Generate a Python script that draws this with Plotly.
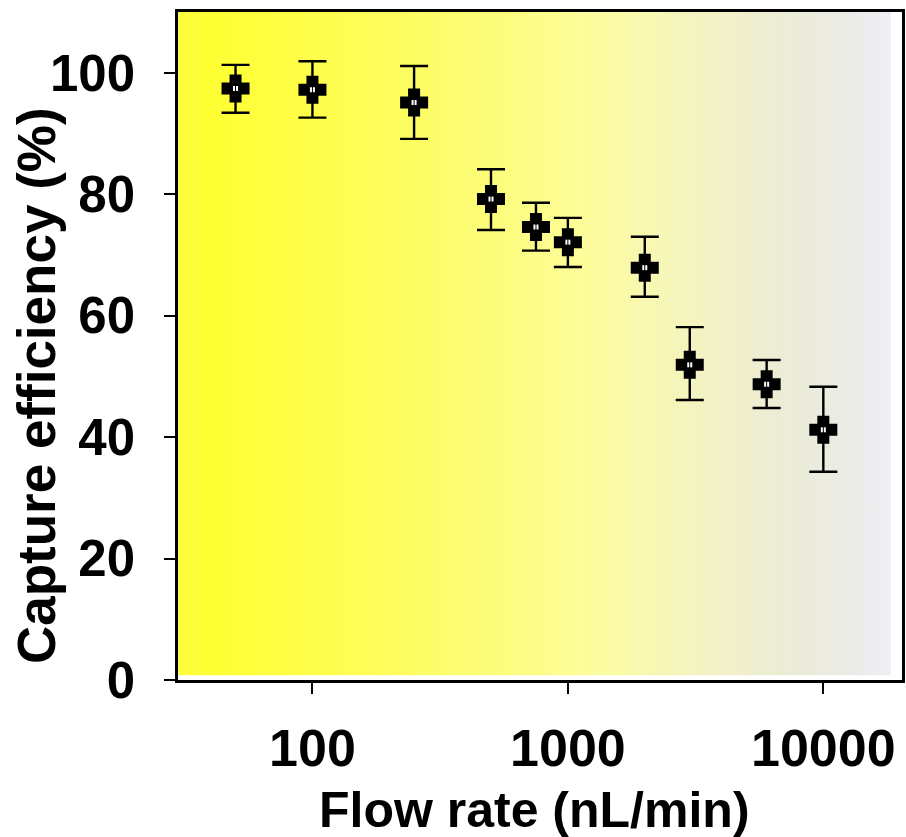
import plotly.graph_objects as go

# ---- data ----
flow_rate = [50, 100, 250, 500, 750, 1000, 2000, 3000, 6000, 10000]
capture_eff = [97.4, 97.2, 95.1, 79.2, 74.6, 72.1, 67.9, 51.9, 48.7, 41.2]
err_up = [3.9, 4.7, 6.0, 4.9, 4.0, 4.0, 5.1, 6.2, 4.0, 7.1]
err_down = [4.0, 4.6, 6.0, 5.1, 3.9, 4.1, 4.8, 5.8, 3.9, 6.9]
x_ticks = [100, 1000, 10000]
x_tick_labels = ["100", "1000", "10000"]
y_ticks = [0, 20, 40, 60, 80, 100]

# background gradient box (data-space extent of the shaded panel)
bg_x = [29.8, 18400, 18400, 29.8, 29.8]
bg_y = [0.8, 0.8, 110, 110, 0.8]
bg_scale = [
    [0.0, "#fdfd40"], [0.04, "#ffff33"], [0.15, "#fefe44"], [0.3, "#fdfd5e"],
    [0.45, "#fcfc7c"], [0.56, "#fdfd98"], [0.66, "#f8f8b2"], [0.76, "#f1f1c8"],
    [0.86, "#ececd8"], [0.95, "#ebebe8"], [1.0, "#efeff8"],
]

FONT = "Liberation Sans, Arial, sans-serif"

fig = go.Figure()
fig.add_trace(go.Scatter(
    x=bg_x, y=bg_y, mode="lines", fill="toself", line=dict(width=0),
    fillgradient=dict(type="horizontal", colorscale=bg_scale),
    hoverinfo="skip", showlegend=False))

fig.add_trace(go.Scatter(
    x=flow_rate, y=capture_eff, mode="markers",
    marker=dict(symbol="cross", size=20, color="black",
                line=dict(color="black", width=4)),
    error_y=dict(type="data", symmetric=False, array=err_up, arrayminus=err_down,
                 color="black", thickness=2.4, width=14),
    showlegend=False))
fig.add_trace(go.Scatter(
    x=flow_rate, y=capture_eff, mode="markers",
    marker=dict(symbol="square", size=5, color="white", line=dict(width=0)),
    showlegend=False, hoverinfo="skip"))
fig.add_trace(go.Scatter(
    x=flow_rate, y=capture_eff, mode="markers",
    marker=dict(symbol="line-ns", size=5, color="black", line=dict(color="black", width=1)),
    showlegend=False, hoverinfo="skip"))

fig.update_layout(
    width=906, height=837,
    margin=dict(l=178, r=1, t=12, b=157),
    paper_bgcolor="white", plot_bgcolor="white",
    font=dict(family=FONT, color="black", size=50, weight="bold"),
    showlegend=False,
)
fig.update_xaxes(
    type="log", range=[1.4737, 4.308],
    tickvals=x_ticks, ticktext=x_tick_labels,
    ticks="outside", ticklen=11, tickwidth=2, tickcolor="black",
    showline=True, linecolor="black", linewidth=2.5, mirror=True,
    showgrid=False, zeroline=False,
    tickfont=dict(family=FONT, size=52, weight="bold"),
    ticklabelstandoff=10,
)
fig.update_yaxes(
    range=[0, 110], tickvals=y_ticks,
    ticks="outside", ticklen=11, tickwidth=2, tickcolor="black",
    showline=True, linecolor="black", linewidth=2.5, mirror=True,
    showgrid=False, zeroline=False,
    tickfont=dict(family=FONT, size=51, weight="bold"),
    ticklabelstandoff=19,
)
fig.add_annotation(
    text="Capture efficiency (%)", textangle=-90, showarrow=False,
    xref="paper", yref="paper", x=0, y=0.44, xanchor="center", yanchor="middle",
    xshift=-142, font=dict(family=FONT, size=53, weight="bold"))
fig.add_annotation(
    text="Flow rate (nL/min)", showarrow=False,
    xref="paper", yref="paper", x=0.4925, y=0, xanchor="center", yanchor="middle",
    yshift=-130, font=dict(family=FONT, size=50, weight="bold"))

fig.write_html("out.html")
